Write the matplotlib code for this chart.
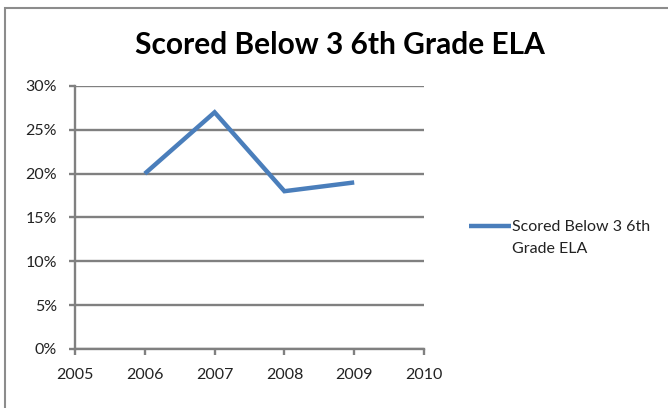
import matplotlib
matplotlib.use("Agg")
import matplotlib.pyplot as plt
from matplotlib.patches import Rectangle
from matplotlib.ticker import FuncFormatter

# data
years = [2006, 2007, 2008, 2009]
below3 = [0.20, 0.27, 0.18, 0.19]
series_lines = ["Scored Below 3 6th", "Grade ELA"]
chart_title = "Scored Below 3 6th Grade ELA"
x_ticks = [2005, 2006, 2007, 2008, 2009, 2010]
y_ticks = [0, 0.05, 0.10, 0.15, 0.20, 0.25, 0.30]

plt.rcParams['font.family'] = ['Lato', 'DejaVu Sans']

grey = '#808080'
blue = '#4A7EBB'
txt = '#222222'

fig = plt.figure(figsize=(6.68, 4.08), dpi=100)
fig.add_artist(Rectangle((5 / 668, -0.1), 1.2, 0.1 + 1 - 8 / 408,
                         transform=fig.transFigure, fill=False,
                         edgecolor='#8c8c8c', linewidth=1.5))

ax = fig.add_axes([75 / 668, 1 - 349 / 408, 349 / 668, 263 / 408])
ax.plot(years, below3, color=blue, linewidth=3.2, label=series_lines[0],
        solid_joinstyle='miter', solid_capstyle='butt')

ax.set_xlim(2005, 2010)
ax.set_ylim(0, 0.30)
ax.set_xticks(x_ticks)
ax.set_yticks(y_ticks)
ax.yaxis.set_major_formatter(FuncFormatter(lambda v, p: f"{v * 100:.0f}%"))

ax.grid(axis='y', color=grey, linewidth=1.7)
ax.set_axisbelow(True)
for s in ['top', 'right']:
    ax.spines[s].set_visible(False)
for s in ['left', 'bottom']:
    ax.spines[s].set_color(grey)
    ax.spines[s].set_linewidth(1.7)

ax.tick_params(axis='y', length=4.5, width=1.7, color=grey, pad=8.5,
               labelsize=11.5, labelcolor=txt)
ax.tick_params(axis='x', length=4, width=1.7, color=grey, pad=10,
               labelsize=11.5, labelcolor=txt)

fig.text(340 / 668, 1 - 45 / 408, chart_title, ha='center', va='center',
         fontsize=21.5, fontweight='bold', color='black')

# legend: handle next to the first line, second line wrapped below
leg = fig.legend(loc='center left', bbox_to_anchor=(469 / 668, 1 - 227 / 408),
                 frameon=False, fontsize=11.5, handlelength=2.6,
                 handletextpad=0.1, borderpad=0, borderaxespad=0)
for t in leg.get_texts():
    t.set_color(txt)
fig.canvas.draw()
bb = leg.get_texts()[0].get_window_extent()
fig.text(bb.x0 / fig.bbox.width, 1 - 249 / 408, series_lines[1],
         ha='left', va='center', fontsize=11.5, color=txt)

fig.savefig('out.png', dpi=100)
